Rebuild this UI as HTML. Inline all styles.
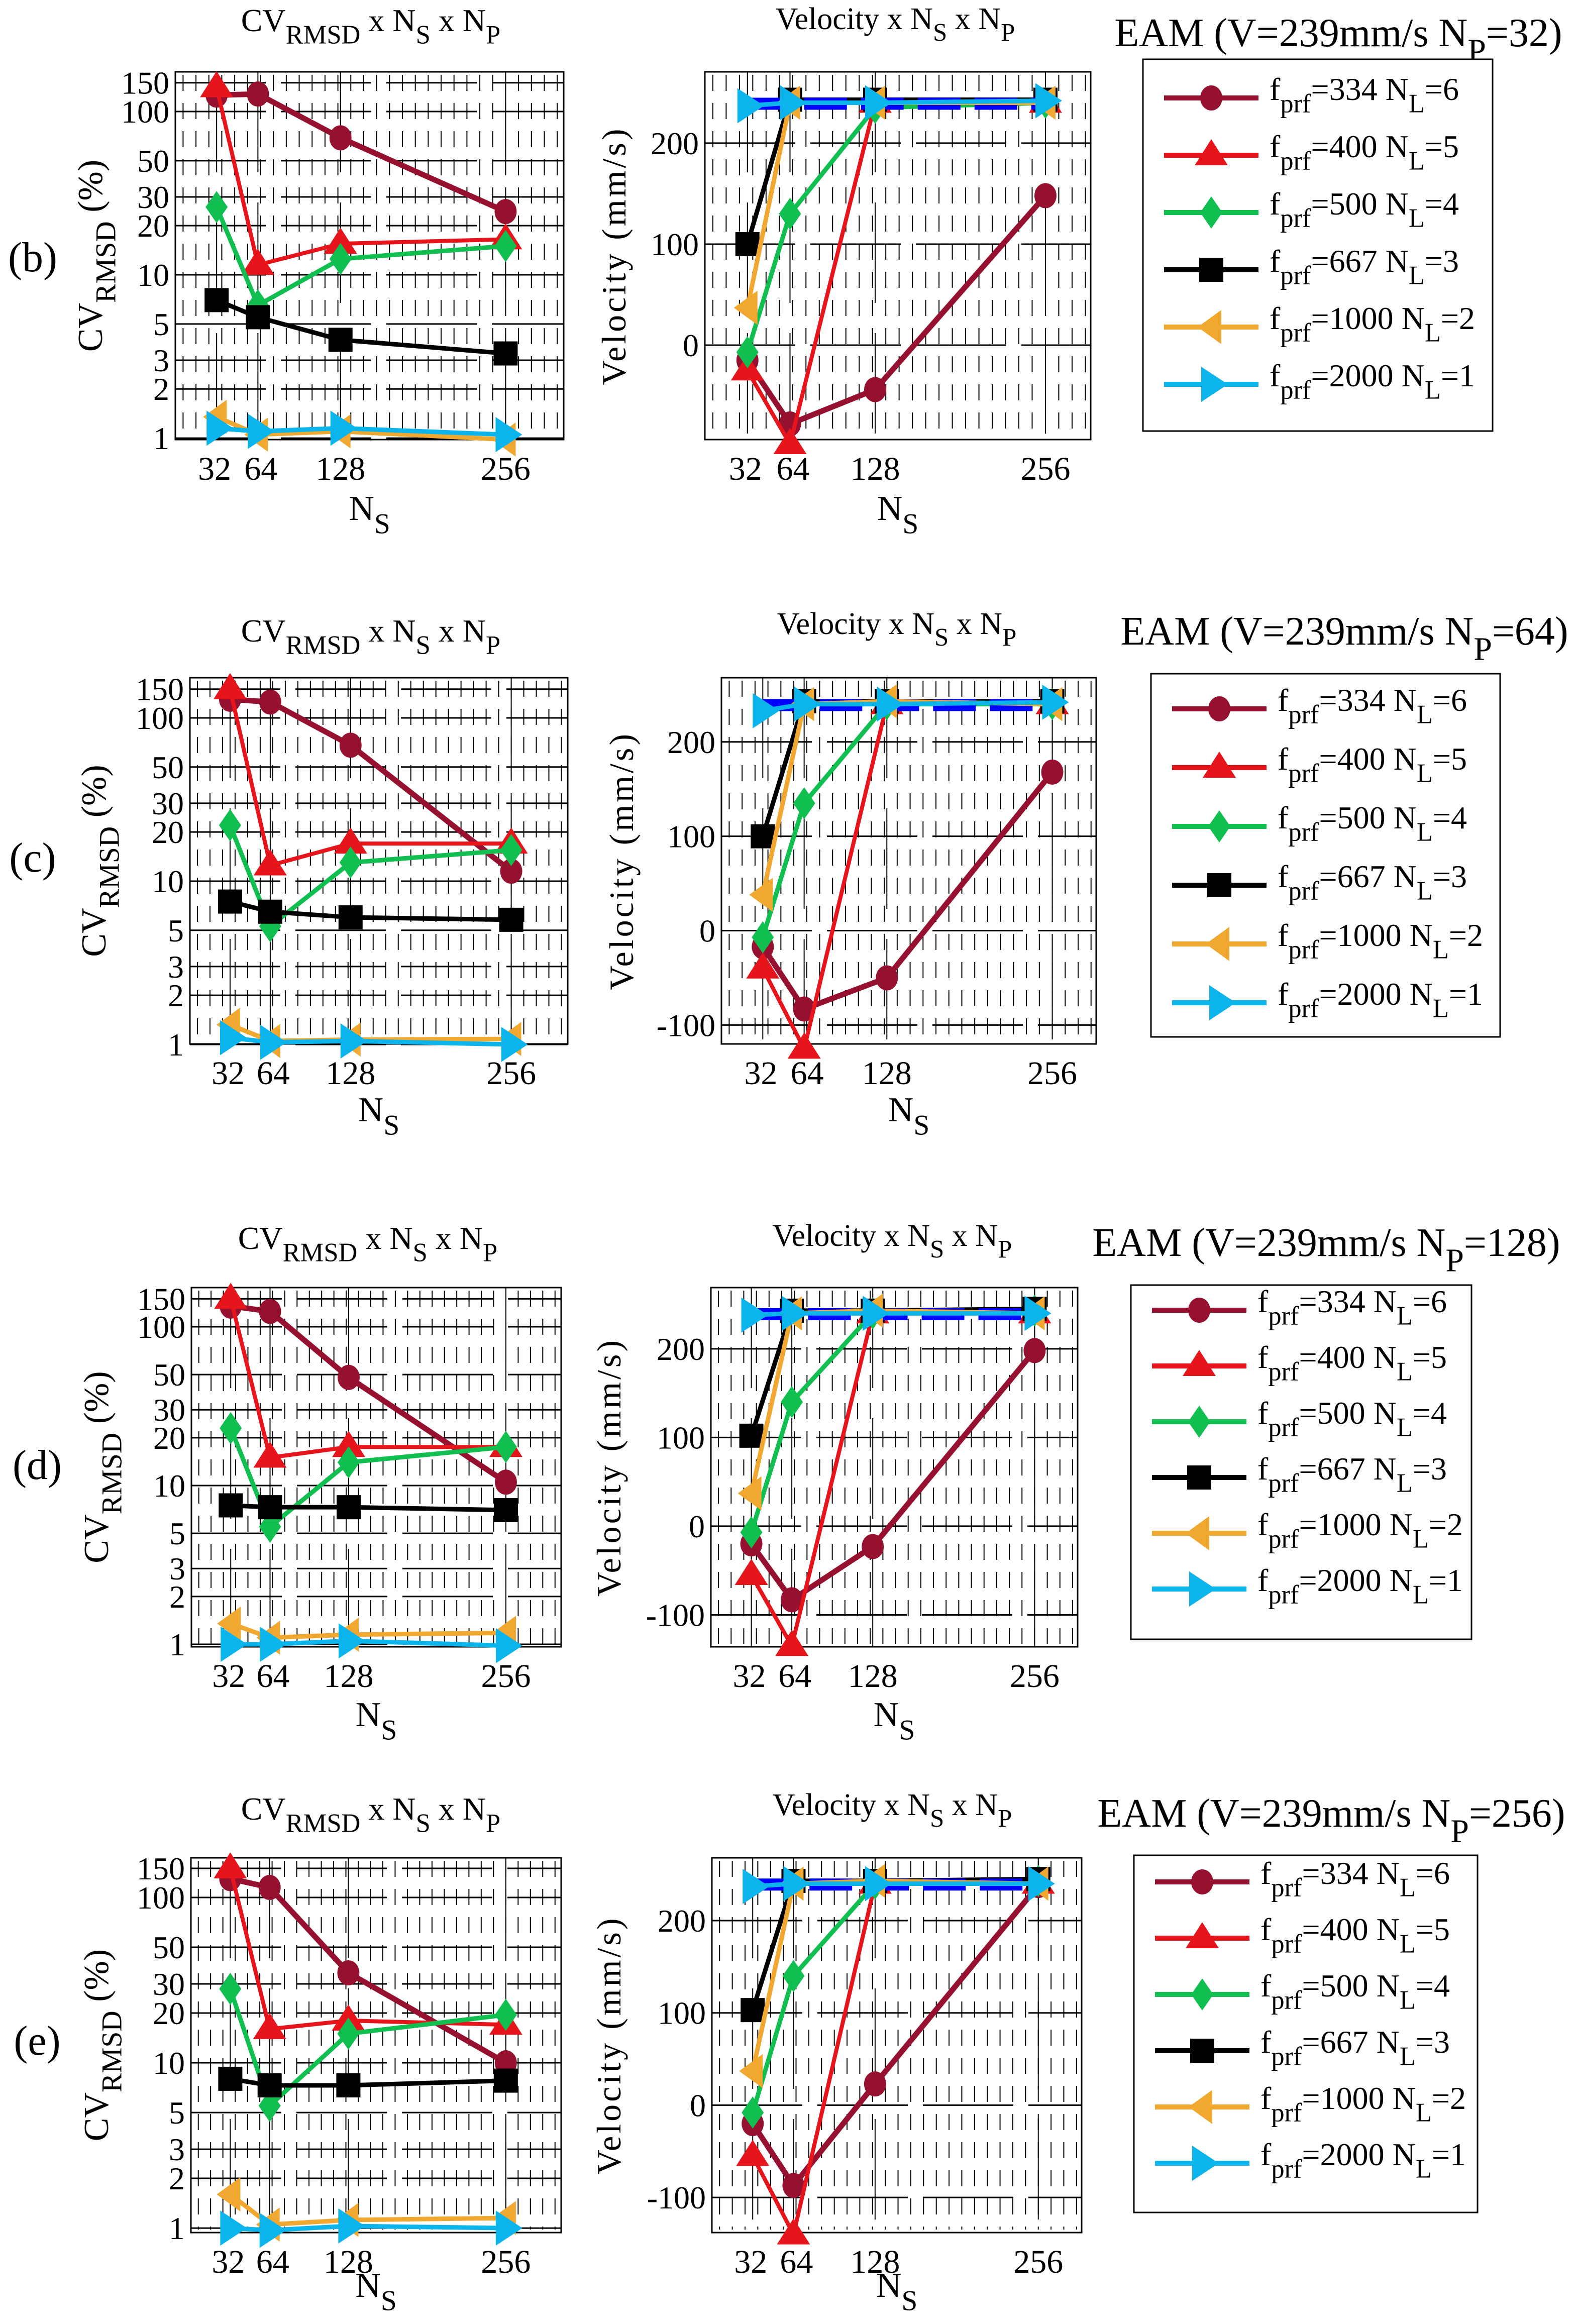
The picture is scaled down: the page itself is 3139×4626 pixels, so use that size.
<!DOCTYPE html>
<html><head><meta charset="utf-8"><style>
html,body{margin:0;padding:0;background:#fff;}
svg{display:block;}
svg text{font-family:"Liberation Serif","Times New Roman",serif;}
</style></head><body>
<svg id="fig" xmlns="http://www.w3.org/2000/svg" width="3139" height="4626" viewBox="0 0 3139 4626" font-family="Liberation Serif, serif"></svg>
<script>
// ---- data ----
const nsCategories=[32,64,128,256];
const fprfLabels=['334','400','500','667','1000','2000'];
const nlLabels=['6','5','4','3','2','1'];
const cvTicks=[1,2,3,5,10,20,30,50,100,150];
const velTicks=[-100,0,100,200];
const refVelocity=239;
const npValues=['32','64','128','256'];

const cvB334=[126,128,69,24.4], cvB400=[141,11.5,15.5,16.5], cvB500=[26,6.5,12.5,15], cvB667=[7,5.5,4,3.3], cvB1000=[1.35,1.05,1.1,0.98], cvB2000=[1.15,1.1,1.15,1.05];
const velB334=[-15,-78,-44,148], velB400=[-25,-98,240,240], velB500=[-7,130,235,240], velB667=[100,243,243,243], velB1000=[37,240,240,240], velB2000=[237,240,240,242];
const cvC334=[130,125,68,11.5], cvC400=[150,12.5,17,17], cvC500=[22,5.3,13,15.5], cvC667=[7.5,6.5,6,5.8], cvC1000=[1.32,1.05,1.07,1.08], cvC2000=[1.1,1.03,1.05,1.0];
const velC334=[-17,-83,-50,168], velC400=[-40,-125,240,240], velC500=[-7,135,240,240], velC667=[100,243,243,243], velC1000=[38,240,243,240], velC2000=[233,240,240,242];
const cvD334=[135,125,48,10.5], cvD400=[150,15,17.5,17.5], cvD500=[23,5.5,14,17.5], cvD667=[7.5,7.3,7.3,7], cvD1000=[1.35,1.1,1.15,1.18], cvD2000=[1.0,1.0,1.05,0.98];
const velD334=[-20,-83,-23,198], velD400=[-55,-135,240,240], velD500=[-7,140,240,243], velD667=[102,243,243,245], velD1000=[37,240,243,240], velD2000=[238,240,240,240];
const cvE334=[130,115,35,10], cvE400=[150,16,18,17], cvE500=[28,5.5,15,19.5], cvE667=[8,7.3,7.3,7.8], cvE1000=[1.6,1.05,1.12,1.15], cvE2000=[1.0,0.97,1.03,1.0];
const velE334=[-20,-87,23,238], velE400=[-55,-140,240,240], velE500=[-8,140,240,243], velE667=[103,243,243,245], velE1000=[37,240,243,240], velE2000=[237,240,240,240];

const cvRows=[[cvB334,cvB400,cvB500,cvB667,cvB1000,cvB2000],[cvC334,cvC400,cvC500,cvC667,cvC1000,cvC2000],[cvD334,cvD400,cvD500,cvD667,cvD1000,cvD2000],[cvE334,cvE400,cvE500,cvE667,cvE1000,cvE2000]];
const velRows=[[velB334,velB400,velB500,velB667,velB1000,velB2000],[velC334,velC400,velC500,velC667,velC1000,velC2000],[velD334,velD400,velD500,velD667,velD1000,velD2000],[velE334,velE400,velE500,velE667,velE1000,velE2000]];

// ---- layout (pixels) ----
const colors=['#96112F','#E6141B','#10BF50','#000000','#F0A830','#0BB4EA'];
const widths=[11,8,9,9,9,9];
const shapes=['circle','up','diamond','square','left','right'];
const layout=[
 {lab:'(b)',lx:65,ly:540,cv:{l:349,r:1122,t:143,b:875,lo:-0.009,hi:2.243},vel:{l:1403,r:2171,t:143,b:875,lo:-93.5,hi:270.6},
  cvT:[738,62],velT:[1782,58],nsY:1035,cvYL:183,velYL:1225,eam:[2664,92],leg:{l:2275,r:2971,t:118,b:858,y0:195,dy:114}},
 {lab:'(c)',lx:65,ly:1735,cv:{l:378,r:1130,t:1349,b:2078,lo:0.003,hi:2.246},vel:{l:1436,r:2182,t:1349,b:2078,lo:-120,hi:268},
  cvT:[738,1277],velT:[1785,1262],nsY:2232,cvYL:190,velYL:1240,eam:[2676,1283],leg:{l:2291,r:2986,t:1341,b:2064,y0:1411,dy:117}},
 {lab:'(d)',lx:74,ly:2944,cv:{l:381,r:1117,t:2563,b:3278,lo:-0.016,hi:2.247},vel:{l:1415,r:2145,t:2563,b:3278,lo:-136,hi:269},
  cvT:[732,2486],velT:[1776,2480],nsY:3436,cvYL:195,velYL:1215,eam:[2640,2500],leg:{l:2251,r:2929,t:2558,b:3263,y0:2608,dy:111}},
 {lab:'(e)',lx:74,ly:4090,cv:{l:380,r:1117,t:3698,b:4444,lo:-0.027,hi:2.24},vel:{l:1417,r:2153,t:3698,b:4444,lo:-138,hi:268},
  cvT:[738,3622],velT:[1776,3613],nsY:4572,cvYL:195,velYL:1215,eam:[2650,3636],leg:{l:2257,r:2941,t:3693,b:4404,y0:3746,dy:112}}
];
const CV_XMAX=301, VEL_XMAX=290;
const FONT='"Liberation Serif", serif';

const NS='http://www.w3.org/2000/svg';
const svg=document.getElementById('fig');
function el(tag,attrs,parent){const e=document.createElementNS(NS,tag);for(const k in attrs)e.setAttribute(k,attrs[k]);if(tag==='text')e.setAttribute('font-family',FONT);(parent||svg).appendChild(e);return e;}
function txt(parent,x,y,parts,size,anchor){
  const t=el('text',{x:x,y:y,'font-size':size,'text-anchor':anchor||'start',fill:'#000'},parent);
  let sub=false;
  parts.forEach(p=>{const s=el('tspan',{},t);
    if(p.sub&&!sub){s.setAttribute('dy',size*0.38);s.setAttribute('font-size',size*0.82);sub=true;}
    else if(!p.sub&&sub){s.setAttribute('dy',-size*0.38);sub=false;}
    else if(p.sub){s.setAttribute('font-size',size*0.82);}
    s.textContent=p.s;});
  return t;
}
function marker(g,shape,x,y,c){
  let m;
  if(shape==='circle')m=el('ellipse',{cx:x,cy:y,rx:22,ry:25,fill:c},g);
  else if(shape==='up')m=el('polygon',{points:`${x},${y-32} ${x-33},${y+20} ${x+33},${y+20}`,fill:c},g);
  else if(shape==='diamond')m=el('polygon',{points:`${x},${y-32} ${x+22},${y} ${x},${y+32} ${x-22},${y}`,fill:c},g);
  else if(shape==='square')m=el('rect',{x:x-24,y:y-24,width:48,height:48,fill:c},g);
  else if(shape==='left')m=el('polygon',{points:`${x-27},${y} ${x+20},${y-34} ${x+20},${y+34}`,fill:c},g);
  else m=el('polygon',{points:`${x+33},${y} ${x-20},${y-35} ${x-20},${y+35}`,fill:c},g);
  
  
  return m;
}
function frame(g,a,xmax,xFn,yFn,yTicks,yLabelFn){
  for(let v=6;v<xmax;v+=10){
    const ln=el('line',{x1:xFn(v),x2:xFn(v),y1:a.t+6,y2:a.b-6,stroke:'#000','stroke-width':2,'stroke-dasharray':'32 24'},g);
    
    
  }
  nsCategories.forEach(v=>{
    const ln=el('line',{x1:xFn(v),x2:xFn(v),y1:a.t,y2:a.b,stroke:'#000','stroke-width':2,'stroke-dasharray':'200 60'},g);
    
    
  });
  yTicks.forEach(v=>{
    const y=yFn(v); if(y<a.t-1||y>a.b+1)return;
    const ln=el('line',{x1:a.l,x2:a.r,y1:y,y2:y,stroke:'#000','stroke-width':3,'stroke-dasharray':'180 30'},g);
    
    
    const t=el('text',{x:a.l-12,y:y+22,'font-size':64,'text-anchor':'end'},g);
    t.textContent=yLabelFn(v);
    
    
  });
  nsCategories.forEach((v,i)=>{
    let x=xFn(v); if(i===0)x-=4; if(i===1)x+=6;
    const t=el('text',{x:x,y:a.b+80,'font-size':66,'text-anchor':'middle'},g);
    t.textContent=String(v);
    
    
  });
  const box=el('rect',{x:a.l,y:a.t,width:a.r-a.l,height:a.b-a.t,fill:'none',stroke:'#000','stroke-width':3},g);
  
  
}
function drawSeries(g,vals,k,xFn,yFn){
  const pts=nsCategories.map((n,i)=>[xFn(n),yFn(vals[i])]);
  const pl=el('polyline',{points:pts.map(p=>p.join(',')).join(' '),fill:'none',stroke:colors[k],'stroke-width':widths[k],'stroke-linejoin':'round'},g);
  
  
  pts.forEach(p=>marker(g,shapes[k],p[0],p[1],colors[k]));
}

layout.forEach((L,r)=>{
  const row=el('g',{});
  
  
  const lab=el('text',{x:L.lx,y:L.ly,'font-size':84,'text-anchor':'middle'},row);
  lab.textContent=L.lab;
  
  

  const a=L.cv;
  const g1=el('g',{},row);
  
  
  const xc=v=>a.l+v/CV_XMAX*(a.r-a.l);
  const yc=v=>a.b-(Math.log10(v)-a.lo)/(a.hi-a.lo)*(a.b-a.t);
  frame(g1,a,CV_XMAX,xc,yc,cvTicks,v=>String(v));
  cvRows[r].forEach((s,k)=>drawSeries(g1,s,k,xc,yc));
  const t1=txt(g1,L.cvT[0],L.cvT[1],[{s:'CV'},{s:'RMSD',sub:true},{s:' x N'},{s:'S',sub:true},{s:' x N'},{s:'P',sub:true}],64,'middle');
  
  
  const xl1=txt(g1,(a.l+a.r)/2,L.nsY,[{s:'N'},{s:'S',sub:true}],70,'middle');
  
  
  const yg1=el('g',{transform:`translate(${L.cvYL},${(a.t+a.b)/2}) rotate(-90)`},g1);
  const yl1=txt(yg1,0,20,[{s:'CV'},{s:'RMSD',sub:true},{s:' (%)'}],70,'middle');
  
  

  const b=L.vel;
  const g2=el('g',{},row);
  
  
  const xv=v=>b.l+v/VEL_XMAX*(b.r-b.l);
  const yv=v=>b.b-(v-b.lo)/(b.hi-b.lo)*(b.b-b.t);
  frame(g2,b,VEL_XMAX,xv,yv,velTicks,v=>String(v));
  velRows[r].forEach((s,k)=>{
    if(k===4){
      const ref=el('line',{x1:xv(nsCategories[0]),x2:xv(nsCategories[3]),y1:yv(refVelocity),y2:yv(refVelocity),stroke:'#0000FF','stroke-width':24,'stroke-dasharray':'85 28'},g2);
      
      
    }
    drawSeries(g2,s,k,xv,yv);
  });
  const t2=txt(g2,L.velT[0],L.velT[1],[{s:'Velocity x N'},{s:'S',sub:true},{s:' x N'},{s:'P',sub:true}],62,'middle');
  
  
  const xl2=txt(g2,(b.l+b.r)/2,L.nsY,[{s:'N'},{s:'S',sub:true}],70,'middle');
  
  
  const yg2=el('g',{transform:`translate(${L.velYL},${(b.t+b.b)/2}) rotate(-90)`},g2);
  const yl2=el('text',{x:0,y:20,'font-size':68,'text-anchor':'middle','letter-spacing':'5'},yg2);
  yl2.textContent='Velocity (mm/s)';
  
  

  const et=txt(row,L.eam[0],L.eam[1],[{s:'EAM (V=239mm/s N'},{s:'P',sub:true},{s:'='+npValues[r]+')'}],80,'middle');
  
  

  const lg=L.leg;
  const gl=el('g',{},row);
  
  
  const lb=el('rect',{x:lg.l,y:lg.t,width:lg.r-lg.l,height:lg.b-lg.t,fill:'#fff',stroke:'#000','stroke-width':3},gl);
  
  
  fprfLabels.forEach((f,k)=>{
    const y=lg.y0+k*lg.dy;
    const ge=el('g',{},gl);
    
    
    el('line',{x1:lg.l+42,x2:lg.l+230,y1:y,y2:y,stroke:colors[k],'stroke-width':10},ge);
    marker(ge,shapes[k],lg.l+136,y,colors[k]);
    const lt=txt(ge,lg.l+252,y+4,[{s:'f'},{s:'prf',sub:true},{s:'='+f+' N'},{s:'L',sub:true},{s:'='+nlLabels[k]}],64,'start');
    
    
  });
});
</script>
</body></html>
